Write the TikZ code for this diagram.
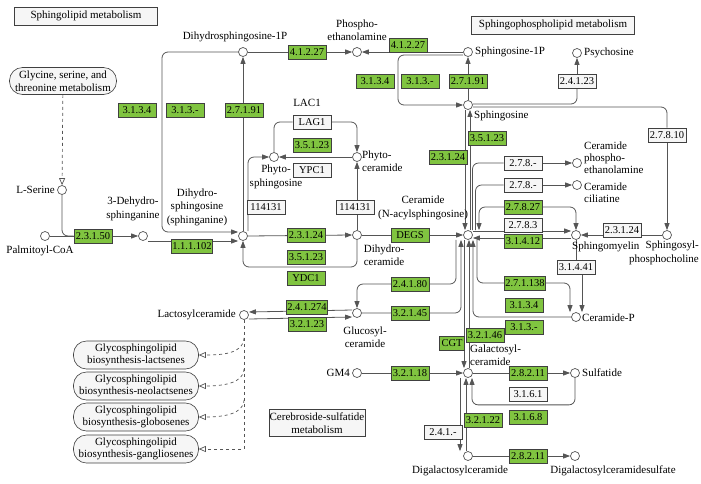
\documentclass[tikz,border=0pt]{standalone}
\usepackage{fontspec}
\setmainfont{Liberation Serif}
\usetikzlibrary{arrows.meta,calc,backgrounds}
\definecolor{linec}{RGB}{85,85,85}
\definecolor{enzg}{RGB}{128,196,64}
\definecolor{mapf}{RGB}{246,246,246}
\begin{document}
\begin{tikzpicture}[x=1pt,y=-1pt,
 every node/.style={font=\fontsize{11}{13.5}\selectfont},
 cpd/.style={circle,draw=linec,fill=white,minimum size=9pt,inner sep=0pt,line width=0.7pt},
 enz/.style={draw=black!75,fill=enzg,minimum width=38pt,minimum height=14pt,inner sep=1pt,line width=0.6pt,font=\fontsize{10.5}{12}\selectfont},
 wenz/.style={enz,fill=mapf},
 lbl/.style={inner sep=0pt,align=center},
 mapbox/.style={draw=black!75,fill=mapf,align=center,line width=0.6pt,inner sep=2pt},
 rmap/.style={mapbox,rounded corners=13pt,minimum width=125pt,minimum height=28pt,inner sep=0pt,font=\fontsize{11}{12.5}\selectfont},
 conn/.style={draw=linec,line width=0.8pt,rounded corners=6pt},
 arr/.style={conn,-{Triangle[length=7pt,width=5pt]}},
 darr/.style={conn,{Triangle[length=7pt,width=5pt]}-{Triangle[length=7pt,width=5pt]}},
 dasharr/.style={draw=linec,line width=0.7pt,dashed,-{Triangle[open,length=7pt,width=6pt]}}]
\useasboundingbox (0,0) rectangle (701,483);
% compounds
\node[cpd] (palm) at (45,236){};
\node[cpd] (ser) at (62,190){};
\node[cpd] (dehyd) at (143,236){};
\node[cpd] (dhs) at (243,236){};
\node[cpd] (dhs1p) at (243,52){};
\node[cpd] (pe) at (357,52){};
\node[cpd] (s1p) at (468,52){};
\node[cpd] (psy) at (577,53){};
\node[cpd] (sph) at (468,105){};
\node[cpd] (phs) at (274,157){};
\node[cpd] (phc) at (357,157){};
\node[cpd] (dhc) at (357,235){};
\node[cpd] (cer) at (468,235){};
\node[cpd] (cpe) at (577,163){};
\node[cpd] (cil) at (577,185){};
\node[cpd] (sm) at (576,235){};
\node[cpd] (spc) at (667,235){};
\node[cpd] (cerp) at (576,317){};
\node[cpd] (glc) at (357,313){};
\node[cpd] (lac) at (244,315){};
\node[cpd] (gm4) at (357,373){};
\node[cpd] (gal) at (468,373){};
\node[cpd] (sulf) at (575,373){};
\node[cpd] (dig) at (468,456){};
\node[cpd] (digs) at (575,456){};
% labels
\node[lbl] (lpalm) at (40,251){Palmitoyl-CoA};
\node[lbl,anchor=east] (lser) at (55,190){L-Serine};
\node[lbl] (ldehyd) at (133,209){3-Dehydro-\\sphinganine};
\node[lbl] (ldhs) at (197,207){Dihydro-\\sphingosine\\(sphinganine)};
\node[lbl] (ldhs1p) at (235,37){Dihydrosphingosine-1P};
\node[lbl] (lpe) at (357,30){Phospho-\\ethanolamine};
\node[lbl,anchor=west] (ls1p) at (475,52){Sphingosine-1P};
\node[lbl,anchor=west] (lpsy) at (584,53){Psychosine};
\node[lbl,anchor=west] (lsph) at (474,116){Sphingosine};
\node[lbl] (llac1) at (307,103){LAC1};
\node[lbl] (lphs) at (276,177){Phyto-\\sphingosine};
\node[lbl,anchor=west,align=left] (lphc) at (362,161){Phyto-\\ceramide};
\node[lbl] (lcer) at (423,208){Ceramide\\(N-acylsphingosine)};
\node[lbl,anchor=west,align=left,font=\fontsize{11}{12}\selectfont] (lcpe) at (584,158){Ceramide\\phospho-\\ethanolamine};
\node[lbl,anchor=west,align=left,font=\fontsize{11}{12}\selectfont] (lcil) at (584,193){Ceramide\\ciliatine};
\node[lbl,anchor=west] (lsm) at (572,247){Sphingomyelin};
\node[lbl,anchor=north east,align=right] (lspc) at (699,241){Sphingosyl-\\phosphocholine};
\node[lbl] (ldhc) at (384,255){Dihydro-\\ceramide};
\node[lbl,anchor=east] (llac) at (236,315){Lactosylceramide};
\node[lbl] (lglc) at (365,337){Glucosyl-\\ceramide};
\node[lbl,anchor=east] (lgm4) at (350,373){GM4};
\node[lbl,anchor=west,align=left] (lgal) at (470,355){Galactosyl-\\ceramide};
\node[lbl,anchor=west] (lsulf) at (582,373){Sulfatide};
\node[lbl,anchor=west] (lcerp) at (582,318){Ceramide-P};
\node[lbl] (ldig) at (460,471){Digalactosylceramide};
\node[lbl] (ldigs) at (613,471){Digalactosylceramidesulfate};
% map boxes
\node[mapbox,minimum width=143pt,minimum height=18pt] (t1) at (86,16){Sphingolipid metabolism};
\node[mapbox,minimum width=163pt,minimum height=18pt] (t2) at (553,25){Sphingophospholipid metabolism};
\node[mapbox,minimum width=96pt,minimum height=27pt,inner sep=0pt,font=\fontsize{11}{12.5}\selectfont] (cereb) at (317,423){Cerebroside-sulfatide\\metabolism};
\node[rmap,minimum width=107pt,minimum height=27pt] (glyser) at (63,81){Glycine, serine, and\\threonine metabolism};
\node[rmap] (gly1) at (136,355){Glycosphingolipid\\biosynthesis-lactsenes};
\node[rmap] (gly2) at (136,386){Glycosphingolipid\\biosynthesis-neolactsenes};
\node[rmap] (gly3) at (136,417){Glycosphingolipid\\biosynthesis-globosenes};
\node[rmap] (gly4) at (136,449){Glycosphingolipid\\biosynthesis-gangliosenes};
% enzymes
\node[enz] (e2315) at (93,236){2.3.1.50};
\node[enz] (e11102) at (192,246){1.1.1.102};
\node[enz] (e3134a) at (137,110){3.1.3.4};
\node[enz] (e313a) at (185,110){3.1.3.-};
\node[enz] (e2791a) at (244,110){2.7.1.91};
\node[enz] (e4127a) at (307,52){4.1.2.27};
\node[wenz] (lag1) at (312,122){LAG1};
\node[enz] (e35123a) at (312,145){3.5.1.23};
\node[wenz] (ypc1) at (312,170){YPC1};
\node[wenz] (k114a) at (266,207){114131};
\node[wenz] (k114b) at (355,207){114131};
\node[enz] (e23124a) at (306,235){2.3.1.24};
\node[enz] (e35123b) at (306,257){3.5.1.23};
\node[enz] (ydc1) at (306,278){YDC1};
\node[enz] (degs) at (410,235){DEGS};
\node[enz] (e4127b) at (408,45){4.1.2.27};
\node[enz] (e3134b) at (375,81){3.1.3.4};
\node[enz] (e313b) at (420,81){3.1.3.-};
\node[enz] (e2791b) at (468,81){2.7.1.91};
\node[wenz] (e24123) at (577,81){2.4.1.23};
\node[wenz] (e27810) at (667,135){2.7.8.10};
\node[enz] (e35123c) at (487,138){3.5.1.23};
\node[enz] (e23124b) at (448,157){2.3.1.24};
\node[wenz] (e278a) at (523,163){2.7.8.-};
\node[wenz] (e278b) at (523,185){2.7.8.-};
\node[enz] (e27827) at (523,207){2.7.8.27};
\node[wenz] (e2783) at (523,225){2.7.8.3};
\node[enz] (e31412) at (523,241){3.1.4.12};
\node[wenz] (e23124c) at (622,230){2.3.1.24};
\node[wenz] (e31441) at (576,267){3.1.4.41};
\node[enz] (e24180) at (410,284){2.4.1.80};
\node[enz] (e21274) at (307,307){2.4.1.274};
\node[enz] (e32123) at (307,324){3.2.1.23};
\node[enz] (e32145) at (410,313){3.2.1.45};
\node[enz] (e271138) at (525,283){2.7.1.138};
\node[enz] (e3134c) at (524,305){3.1.3.4};
\node[enz] (e313c) at (524,327){3.1.3.-};
\node[enz,minimum width=25pt] (cgt) at (452,343){CGT};
\node[enz] (e32146) at (485,335){3.2.1.46};
\node[enz] (e32118) at (410,373){3.2.1.18};
\node[enz] (e28211a) at (528,373){2.8.2.11};
\node[wenz] (e3161) at (528,394){3.1.6.1};
\node[enz] (e3168) at (528,417){3.1.6.8};
\node[enz] (e32122) at (483,420){3.2.1.22};
\node[wenz] (e241) at (443,432){2.4.1.-};
\node[enz] (e28211b) at (528,456){2.8.2.11};
% connectors
\begin{pgfonlayer}{background}
\draw[dasharr] (glyser) -- (ser);
\draw[conn] (ser.south) |- (e2315.west);
\draw[conn] (palm.east) -- (e2315.west);
\draw[arr] (e2315.east) -- (dehyd.west);
\draw[arr] ([yshift=-5pt]dehyd.east) -- ([yshift=-5pt]dhs.west);
\draw[arr] (dhs1p.west) -| (162,232) -- ([yshift=4pt]dhs.west);
\draw[arr] (dhs.north) -- (dhs1p.south);
\draw[arr] (dhs1p.east) -- (pe.west);
\draw[arr] (s1p.west) -- (pe.east);
\draw[arr] ([yshift=-3pt]s1p.west) -| (398,105) -- (sph.west);
\draw[arr] (sph.north) -- (s1p.south);
\draw[conn] ([yshift=1pt]sph.east) -| (e24123.south);
\draw[arr] (e24123.north) -- (psy.south);
\draw[conn] ([yshift=-2pt]sph.east) -| (e27810.north);
\draw[arr] (e27810.south) -- (spc.north);
\draw[arr] ([xshift=-3pt]sph.south) -- ([xshift=-3pt]cer.north);
\draw[arr] ([xshift=2pt]cer.north) -- ([xshift=2pt]sph.south);
\draw[arr] (dhs.east) -- (dhc.west);
\draw[arr] (dhc.south) |- (243,267) -- (dhs.south);
\draw[arr] (dhc.east) -- (cer.west);
\draw[arr] ([xshift=5pt]dhs.north) |- (phs.west);
\draw[arr] (dhc.north) -- (phc.south);
\draw[conn] (phs.north) |- (lag1.west);
\draw[arr] (lag1.east) -| (phc.north);
\draw[arr] (phc.west) -- (phs.east);
\draw[conn] ([xshift=4.5pt]cer.north) |- (e278a.west);
\draw[arr] (e278a.east) -- (cpe.west);
\draw[conn] ([xshift=7.5pt]cer.north) |- (e278b.west);
\draw[arr] (e278b.east) -- (cil.west);
\draw[darr] ([xshift=11pt]cer.north) |- (e27827.west) -- (e27827.east) -| (sm.north);
\draw[arr] ([yshift=4pt]cer.east) -- ([yshift=4pt]sm.west);
\draw[arr] ([yshift=-3pt]sm.west) -- ([yshift=-3pt]cer.east);
\draw[arr] (spc.west) -- (sm.east);
\draw[conn] (sm.south) -- (e31441.north);
\draw[arr] ([xshift=6pt]e31441.south) -- ([xshift=6pt]cerp.north);
\draw[arr] ([xshift=9pt]cer.south) |- (e271138.west) -- (e271138.east) -| ([xshift=-6pt]cerp.north);
\draw[arr] (cerp.west) -| ([xshift=5pt]cer.south);
\draw[arr] ([xshift=-12pt]cer.south) |- (e24180.east) -- (e24180.west) -| (glc.north);
\draw[arr] (glc.east) -| ([xshift=-7pt]cer.south);
\draw[arr] ([xshift=-4pt]cer.south) -- ([xshift=-4pt]gal.north);
\draw[arr] ([xshift=1pt]gal.north) -- ([xshift=1pt]cer.south);
\draw[arr] (gm4.east) -- (gal.west);
\draw[arr] (gal.east) -- (sulf.west);
\draw[arr] (sulf.south) |- ([xshift=4pt,yshift=-27pt]gal.south) -- ([xshift=4pt]gal.south);
\draw[arr] ([xshift=-8pt]gal.south) -- ([xshift=-8pt]dig.north);
\draw[arr] ([xshift=-2pt]dig.north) -- ([xshift=-2pt]gal.south);
\draw[arr] (dig.east) -- (digs.west);
\draw[arr] ([yshift=3pt]glc.west) -- ([yshift=3pt]lac.east);
\draw[arr] ([yshift=-4pt]lac.east) -- ([yshift=-4pt]glc.west);
\draw[dasharr,rounded corners=0pt] (lac.south) |- (gly4.east);
\draw[dasharr] ($(lac.south)+(0,18)$) .. controls ($(lac.south)+(0,34)$) and ($(gly1.east)+(22,0)$) .. (gly1.east);
\draw[dasharr] ($(lac.south)+(0,49)$) .. controls ($(lac.south)+(0,64)$) and ($(gly2.east)+(22,0)$) .. (gly2.east);
\draw[dasharr] ($(lac.south)+(0,80)$) .. controls ($(lac.south)+(0,95)$) and ($(gly3.east)+(22,0)$) .. (gly3.east);
\end{pgfonlayer}
\end{tikzpicture}
\end{document}
